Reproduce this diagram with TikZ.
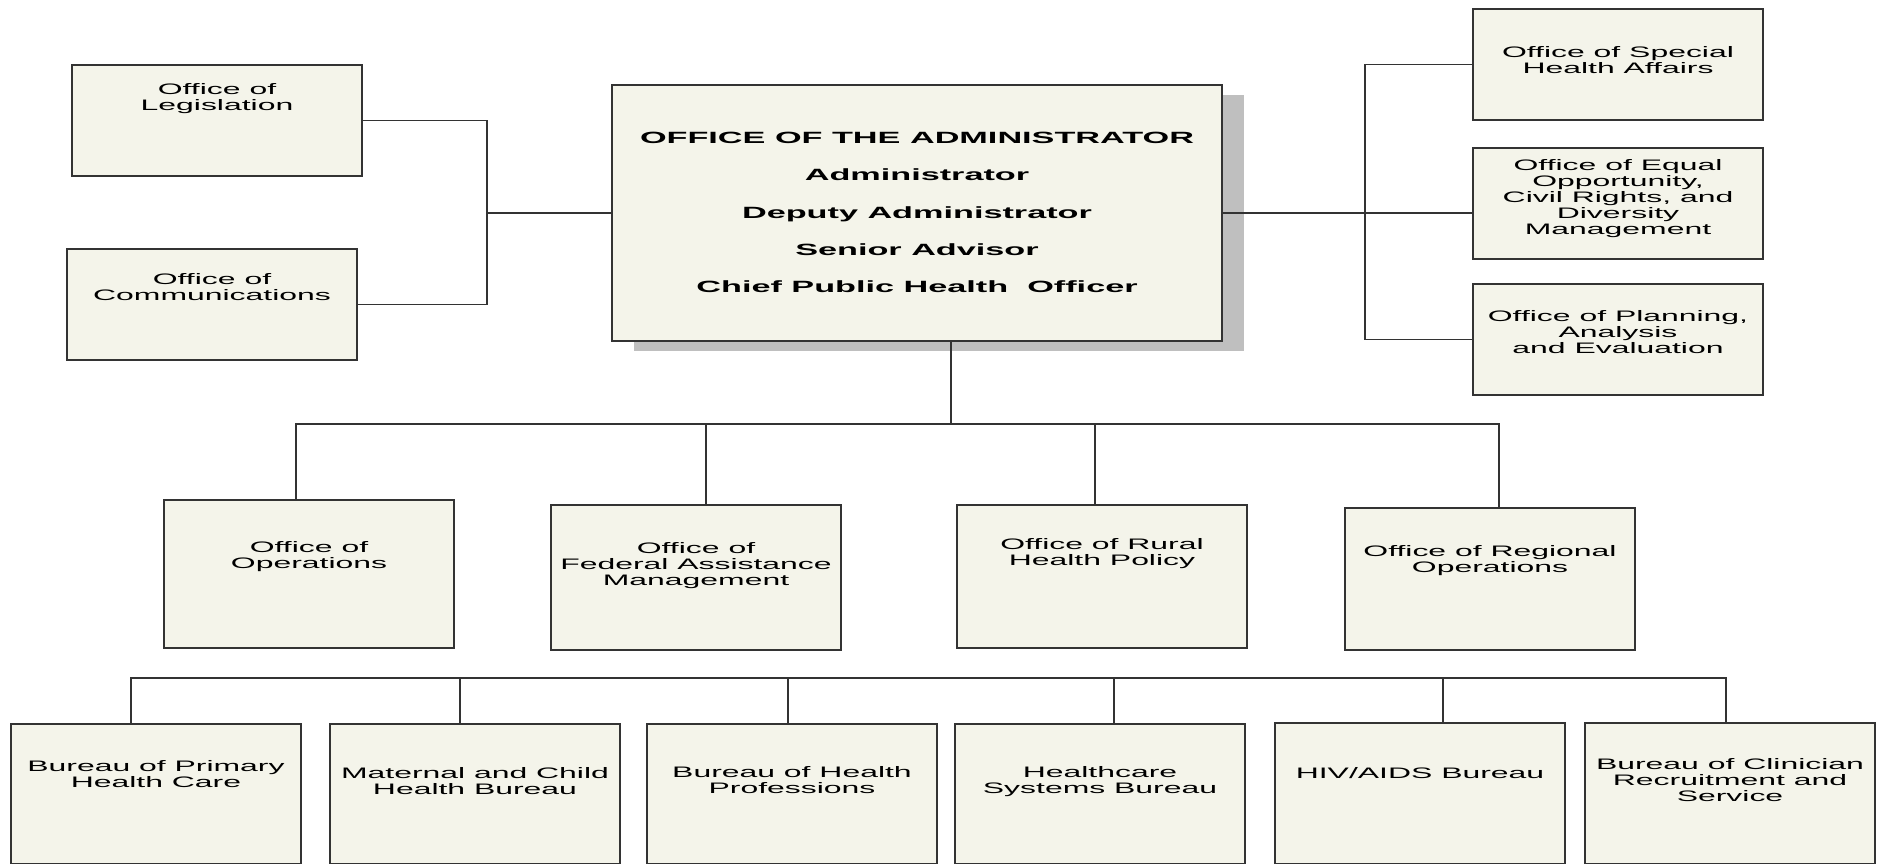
\documentclass[tikz,border=0pt]{standalone}
\usepackage{fontspec}
\newfontfamily\orgfont[FakeStretch=2.1]{Liberation Sans}
\usetikzlibrary{positioning,shadows}
\definecolor{paper}{HTML}{F4F4EA}

\begin{document}
\begin{tikzpicture}[x=1pt,y=-1pt,
  unit/.style={draw=black!80,line width=2pt,fill=paper,anchor=north west,
    minimum width=290pt,minimum height=111pt,inner sep=0pt},
  txt/.style={font=\orgfont\fontsize{15.2}{16}\selectfont,align=center,inner sep=0pt},
  link/.style={draw=black!80,line width=1.4pt}]

  \useasboundingbox (0,0) rectangle (1877,864);

  % head office
  \node[unit,minimum width=610pt,minimum height=256pt,
    drop shadow={shadow xshift=22pt,shadow yshift=-10pt,fill=black!25,opacity=1}]
    (admin) at (611,84) {};
  \node[txt,font=\orgfont\bfseries\fontsize{16.3}{37.3}\selectfont,below=48pt of admin.north]
    (admin-t) {OFFICE OF THE ADMINISTRATOR\\Administrator\\Deputy Administrator\\
      Senior Advisor\\Chief Public Health\ \ Officer};

  % staff offices, left
  \node[unit] (leg) at (71,64) {};
  \node[txt,below=19pt of leg.north] (leg-t) {Office of\\Legislation};
  \node[unit] (com) at (66,248) {};
  \node[txt,below=25pt of com.north] (com-t) {Office of\\Communications};

  % staff offices, right
  \node[unit] (spec) at (1472,8) {};
  \node[txt,below=38pt of spec.north] (spec-t) {Office of Special\\Health Affairs};
  \node[unit] (eq) at (1472,147) {};
  \node[txt,below=12pt of eq.north] (eq-t)
    {Office of Equal\\Opportunity,\\Civil Rights, and\\Diversity\\Management};
  \node[unit] (plan) at (1472,283) {};
  \node[txt,below=27pt of plan.north] (plan-t) {Office of Planning,\\Analysis\\and Evaluation};

  % offices
  \node[unit,minimum height=148pt] (ops) at (163,499) {};
  \node[txt,below=42pt of ops.north] (ops-t) {Office of\\Operations};
  \node[unit,minimum height=145pt] (fed) at (550,504) {};
  \node[txt,below=38pt of fed.north] (fed-t) {Office of\\Federal Assistance\\Management};
  \node[unit,minimum height=143pt] (rur) at (956,504) {};
  \node[txt,below=34pt of rur.north] (rur-t) {Office of Rural\\Health Policy};
  \node[unit,minimum height=142pt] (reg) at (1344,507) {};
  \node[txt,below=38pt of reg.north] (reg-t) {Office of Regional\\Operations};

  % bureaus
  \node[unit,minimum height=140pt] (pri) at (10,723) {};
  \node[txt,below=37pt of pri.north] (pri-t) {Bureau of Primary\\Health Care};
  \node[unit,minimum height=140pt] (mat) at (329,723) {};
  \node[txt,below=44pt of mat.north] (mat-t) {Maternal and Child\\Health Bureau};
  \node[unit,minimum height=140pt] (prof) at (646,723) {};
  \node[txt,below=43pt of prof.north] (prof-t) {Bureau of Health\\Professions};
  \node[unit,minimum height=140pt] (hsb) at (954,723) {};
  \node[txt,below=43pt of hsb.north] (hsb-t) {Healthcare\\Systems Bureau};
  \node[unit,minimum height=141pt] (hiv) at (1274,722) {};
  \node[txt,below=45pt of hiv.north] (hiv-t) {HIV/AIDS Bureau};
  \node[unit,minimum height=141pt] (cli) at (1584,722) {};
  \node[txt,below=36pt of cli.north] (cli-t) {Bureau of Clinician\\Recruitment and\\Service};

  % left and right joins
  \coordinate (lj) at (487,213);
  \coordinate (rj) at (1365,213);
  \draw[link] (leg.east) -| (lj) |- (com.east);
  \draw[link] (lj) -- (lj -| admin.west);
  \draw[link] (spec.west) -| (rj) |- (plan.west);
  \draw[link] (admin.east) -- (admin.east -| eq.west);

  % upper bus
  \coordinate (m0) at (951,424);
  \coordinate (m1) at (296,424);
  \coordinate (m2) at (706,424);
  \coordinate (m3) at (1095,424);
  \coordinate (m4) at (1499,424);
  \draw[link] (m0 |- admin.south) -- (m0);
  \draw[link] (m1 |- ops.north) -- (m1) -- (m4) -- (m4 |- reg.north);
  \draw[link] (m2) -- (m2 |- fed.north);
  \draw[link] (m3) -- (m3 |- rur.north);

  % lower bus
  \coordinate (b1) at (131,678);
  \coordinate (b2) at (460,678);
  \coordinate (b3) at (788,678);
  \coordinate (b4) at (1114,678);
  \coordinate (b5) at (1443,678);
  \coordinate (b6) at (1726,678);
  \draw[link] (b1 |- pri.north) -- (b1) -- (b6) -- (b6 |- cli.north);
  \draw[link] (b2) -- (b2 |- mat.north);
  \draw[link] (b3) -- (b3 |- prof.north);
  \draw[link] (b4) -- (b4 |- hsb.north);
  \draw[link] (b5) -- (b5 |- hiv.north);
\end{tikzpicture}
\end{document}
